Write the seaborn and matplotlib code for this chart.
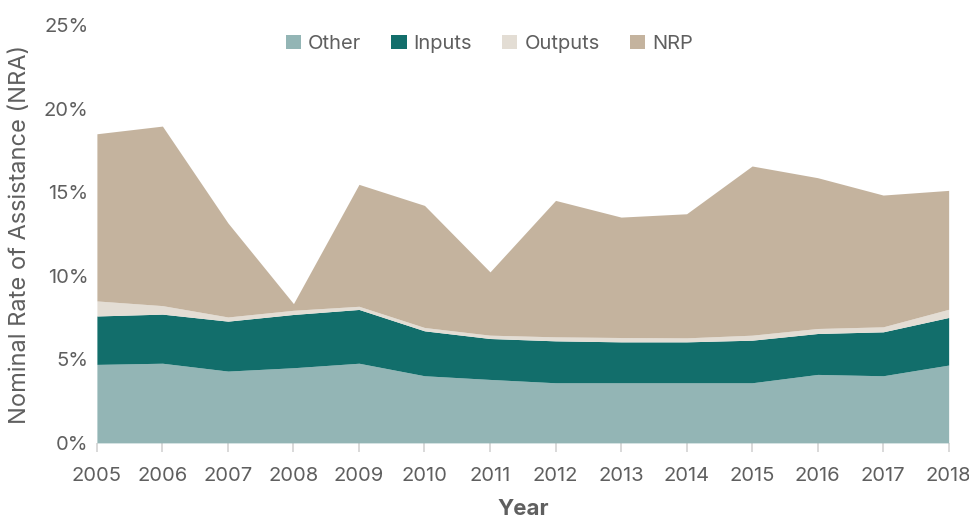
import numpy as np
import pandas as pd
import seaborn as sns
import matplotlib.pyplot as plt
from matplotlib.patches import Patch

years = [2005, 2006, 2007, 2008, 2009, 2010, 2011, 2012, 2013, 2014, 2015, 2016, 2017, 2018]
other = [4.70, 4.77, 4.30, 4.50, 4.77, 4.02, 3.80, 3.60, 3.60, 3.60, 3.60, 4.10, 4.02, 4.66]
inputs = [2.90, 2.94, 2.99, 3.19, 3.22, 2.69, 2.45, 2.51, 2.45, 2.45, 2.55, 2.45, 2.63, 2.85]
outputs = [0.90, 0.51, 0.25, 0.25, 0.19, 0.20, 0.20, 0.24, 0.26, 0.24, 0.30, 0.30, 0.30, 0.49]
nrp = [10.01, 10.75, 5.63, 0.40, 7.30, 7.31, 3.79, 8.17, 7.21, 7.43, 10.13, 9.03, 7.89, 7.12]

labels = ['Other', 'Inputs', 'Outputs', 'NRP']
colors = ['#93b5b5', '#126e6b', '#e3ddd4', '#c4b39e']

df = pd.DataFrame({'Year': years, 'Other': other, 'Inputs': inputs,
                   'Outputs': outputs, 'NRP': nrp})

sns.set_theme(style='white')
plt.rcParams['font.family'] = ['Inter', 'DejaVu Sans']
text_col = '#5f5f5f'

fig, ax = plt.subplots(figsize=(9.69, 5.18), dpi=100)
fig.subplots_adjust(left=0.100, right=0.979, bottom=0.145, top=0.951)

ax.stackplot(df['Year'], [df[c] for c in labels], colors=colors, labels=labels, linewidth=0)

ax.set_xlim(2005, 2018)
ax.set_ylim(0, 25)
ax.set_xticks(years)
ax.set_yticks([0, 5, 10, 15, 20, 25])
ax.set_yticklabels([f'{v}%' for v in [0, 5, 10, 15, 20, 25]])
sns.despine(ax=ax, left=True, bottom=True)

ax.tick_params(axis='x', length=6.5, width=1.2, color='#d3d3d3', pad=11,
               labelsize=14.5, labelcolor=text_col, direction='out', bottom=True)
ax.tick_params(axis='y', length=0, pad=6, labelsize=14.5, labelcolor=text_col)

ax.set_xlabel('Year', fontsize=16, fontweight='bold', color=text_col, labelpad=10)
ax.set_ylabel('Nominal Rate of Assistance (NRA)', fontsize=17, color=text_col, labelpad=9)

handles = [Patch(facecolor=c, edgecolor='none') for c in colors]
fig.legend(handles, labels, loc='upper center', bbox_to_anchor=(0.505, 0.968), ncol=4,
           frameon=False, fontsize=14.5, handlelength=0.75, handleheight=0.75,
           handletextpad=0.35, columnspacing=1.5, labelcolor=text_col)

fig.savefig('out.png', dpi=100)
